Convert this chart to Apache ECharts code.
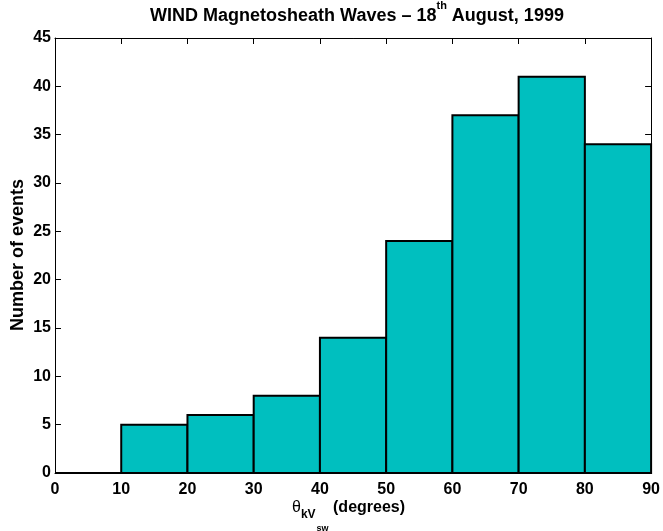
<!DOCTYPE html>
<html>
<head>
<meta charset="utf-8">
<script src="https://cdn.jsdelivr.net/npm/echarts@6/dist/echarts.min.js"></script>
<style>html,body{margin:0;padding:0;background:#fff;}#c{width:663px;height:531px;}</style>
</head>
<body>
<div id="c"></div>
<script>
// Data
var binStarts = [0, 10, 20, 30, 40, 50, 60, 70, 80];
var binEnds = [10, 20, 30, 40, 50, 60, 70, 80, 90];
var counts = [0, 5, 6, 8, 14, 24, 37, 41, 34];
var xTicks = [0, 10, 20, 30, 40, 50, 60, 70, 80, 90];
var yTicks = [0, 5, 10, 15, 20, 25, 30, 35, 40, 45];

var FONT = '"Liberation Sans", Arial, Helvetica, sans-serif';
var chart = echarts.init(document.getElementById('c'), null, {renderer: 'canvas'});

var histData = binStarts.map(function (s, i) { return [s, binEnds[i], counts[i]]; });

var axisBase = {
  min: 0,
  axisLine: {show: true, onZero: false, lineStyle: {color: '#000', width: 1}},
  axisTick: {show: true, inside: true, length: 6, lineStyle: {color: '#000', width: 1}},
  splitLine: {show: false}
};

var option = {
  animation: false,
  backgroundColor: '#fff',
  grid: {left: 55, right: 10, top: 38, bottom: 58, containLabel: false},
  xAxis: [
    Object.assign({}, axisBase, {
      type: 'value', position: 'bottom', max: 90, interval: 10,
      axisLabel: {show: true, color: '#000', fontFamily: FONT, fontWeight: 'bold', fontSize: 16, margin: 9}
    }),
    Object.assign({}, axisBase, {
      type: 'value', position: 'top', max: 90, interval: 10,
      axisLabel: {show: false}
    })
  ],
  yAxis: [
    Object.assign({}, axisBase, {
      type: 'value', position: 'left', max: 45, interval: 5,
      axisLabel: {show: true, color: '#000', fontFamily: FONT, fontWeight: 'bold', fontSize: 16, margin: 4}
    }),
    Object.assign({}, axisBase, {
      type: 'value', position: 'right', max: 45, interval: 5,
      axisLabel: {show: false}
    })
  ],
  series: [{
    type: 'custom',
    xAxisIndex: 0,
    yAxisIndex: 0,
    data: histData,
    encode: {x: [0, 1], y: 2},
    renderItem: function (params, api) {
      var p0 = api.coord([api.value(0), api.value(2)]);
      var p1 = api.coord([api.value(1), 0]);
      return {
        type: 'rect',
        shape: {x: p0[0], y: p0[1], width: p1[0] - p0[0], height: p1[1] - p0[1]},
        style: {fill: '#00BFBF', stroke: '#000', lineWidth: 2}
      };
    }
  }],
  graphic: [
    {
      type: 'text', x: 357, y: 0,
      style: {
        text: '{m|WIND Magnetosheath Waves – 18}{s|th}{m| August, 1999}',
        fill: '#000',
        align: 'center',
        rich: {
          m: {fontFamily: FONT, fontWeight: 'bold', fontSize: 18, lineHeight: 16, padding: [7, 0, 0, 0], verticalAlign: 'top'},
          s: {fontFamily: FONT, fontWeight: 'bold', fontSize: 11, lineHeight: 10, padding: [0, 0, 0, 0], verticalAlign: 'top'}
        }
      }
    },
    {
      type: 'text', left: 292, top: 500,
      style: {
        text: '{t|θ}{k|kV}{s|sw}{d| (degrees)}',
        fill: '#000',
        rich: {
          t: {fontFamily: FONT, fontSize: 16, lineHeight: 16, verticalAlign: 'top'},
          k: {fontFamily: FONT, fontWeight: 'bold', fontSize: 12, lineHeight: 12, padding: [9, 1, 0, 0], verticalAlign: 'top'},
          s: {fontFamily: FONT, fontWeight: 'bold', fontSize: 9, lineHeight: 8, padding: [24, 0, 0, 0], verticalAlign: 'top'},
          d: {fontFamily: FONT, fontWeight: 'bold', fontSize: 16, lineHeight: 16, verticalAlign: 'top'}
        }
      }
    },
    {
      type: 'text', x: 18, y: 255, rotation: Math.PI / 2,
      style: {
        text: 'Number of events', fill: '#000',
        font: 'bold 18px ' + FONT,
        align: 'center', verticalAlign: 'middle'
      }
    }
  ]
};
chart.setOption(option);
</script>
</body>
</html>
